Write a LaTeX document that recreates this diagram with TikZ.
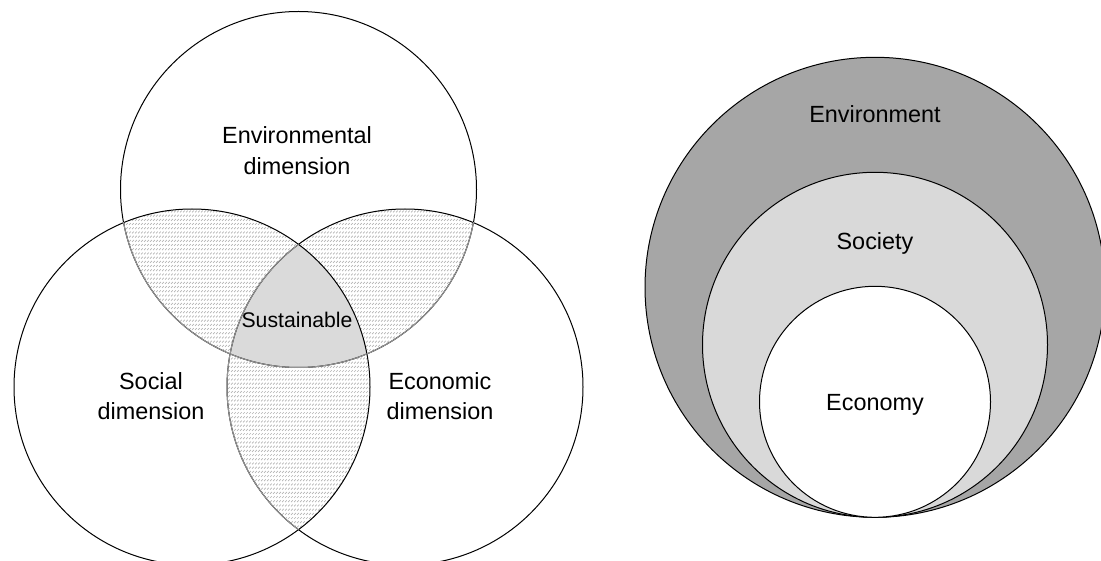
\documentclass[tikz,border=0pt]{standalone}
\usepackage{fontspec}
\setmainfont{Liberation Sans}
\usetikzlibrary{patterns}

% rows of short slashes used for the pairwise overlaps
\pgfdeclarepatternformonly{slashrows}{\pgfqpoint{-1pt}{-1pt}}{\pgfqpoint{4pt}{5pt}}{\pgfqpoint{3pt}{4.2pt}}{%
  \pgfsetlinewidth{0.7pt}%
  \pgfpathmoveto{\pgfqpoint{0pt}{0pt}}%
  \pgfpathlineto{\pgfqpoint{1.8pt}{1.8pt}}%
  \pgfusepath{stroke}}

\definecolor{envgray}{HTML}{A6A6A6}
\definecolor{socgray}{HTML}{D9D9D9}
\definecolor{coregray}{HTML}{DADADA}
\definecolor{arcgray}{HTML}{959595}
\definecolor{hatchgray}{HTML}{B4B4B4}

\tikzset{
  outline/.style={draw=black, line width=1pt},
  innerarc/.style={draw=arcgray, line width=1pt},
  hatch/.style={pattern=slashrows, pattern color=hatchgray},
  lbl/.style={inner sep=0pt, align=center, font=\fontsize{23.4}{31}\selectfont},
  smalllbl/.style={inner sep=0pt, font=\fontsize{21.2}{25}\selectfont},
  ring/.style={circle, draw=black, line width=1pt, inner sep=0pt, outer sep=0pt}
}

\begin{document}
\begin{tikzpicture}[x=1pt, y=-1pt]
\useasboundingbox (0,0) rectangle (1101,561);

% ---------- three-circle model ----------
\coordinate (cEnv) at (298.5,189.5);
\coordinate (cSoc) at (192,387);
\coordinate (cEco) at (405,387);
\def\vr{178pt}

% pairwise overlaps, hatched
\begin{scope}
  \clip (cEnv) circle[radius=\vr];
  \fill[hatch] (cSoc) circle[radius=\vr];
  \fill[hatch] (cEco) circle[radius=\vr];
\end{scope}
\begin{scope}
  \clip (cSoc) circle[radius=\vr];
  \fill[hatch] (cEco) circle[radius=\vr];
\end{scope}

% common core
\begin{scope}
  \clip (cEnv) circle[radius=\vr];
  \clip (cSoc) circle[radius=\vr];
  \fill[coregray] (cEco) circle[radius=\vr];
\end{scope}

% circle outlines
\draw[outline] (cEnv) circle[radius=\vr];
\draw[outline] (cSoc) circle[radius=\vr];
\draw[outline] (cEco) circle[radius=\vr];

% lighter arcs inside the overlaps
\begin{scope}
  \clip (0,222.7) rectangle (600,561);
  \draw[innerarc] (cEnv) circle[radius=\vr];
\end{scope}
\begin{scope}
  \clip (0,0) rectangle (298.5,561);
  \draw[innerarc] (cEco) circle[radius=\vr];
\end{scope}

% two-line labels sit on the baseline of their last line
\node[lbl, anchor=base] (tEnv) at (297,175) {Environmental\\dimension};
\node[lbl, anchor=base] (tSoc) at (151,420) {Social\\dimension};
\node[lbl, anchor=base] (tEco) at (440,420) {Economic\\dimension};
\node[smalllbl, anchor=base] (tSus) at (297,327.7) {Sustainable};

% ---------- nested model ----------
\node[ring, fill=envgray, minimum size=460pt] (env) at (875,287.3) {};
\node[ring, fill=socgray, minimum size=345pt] (soc) at (875,344.8) {};
\node[ring, fill=white, minimum size=231pt] (eco) at (875,401.8) {};

\node[lbl, anchor=base] (tEnvironment) at (875,122.3) {Environment};
\node[lbl, anchor=base] (tSociety) at (875,250) {Society};
\node[lbl, anchor=base] (tEconomy) at (875,410) {Economy};
\end{tikzpicture}
\end{document}
